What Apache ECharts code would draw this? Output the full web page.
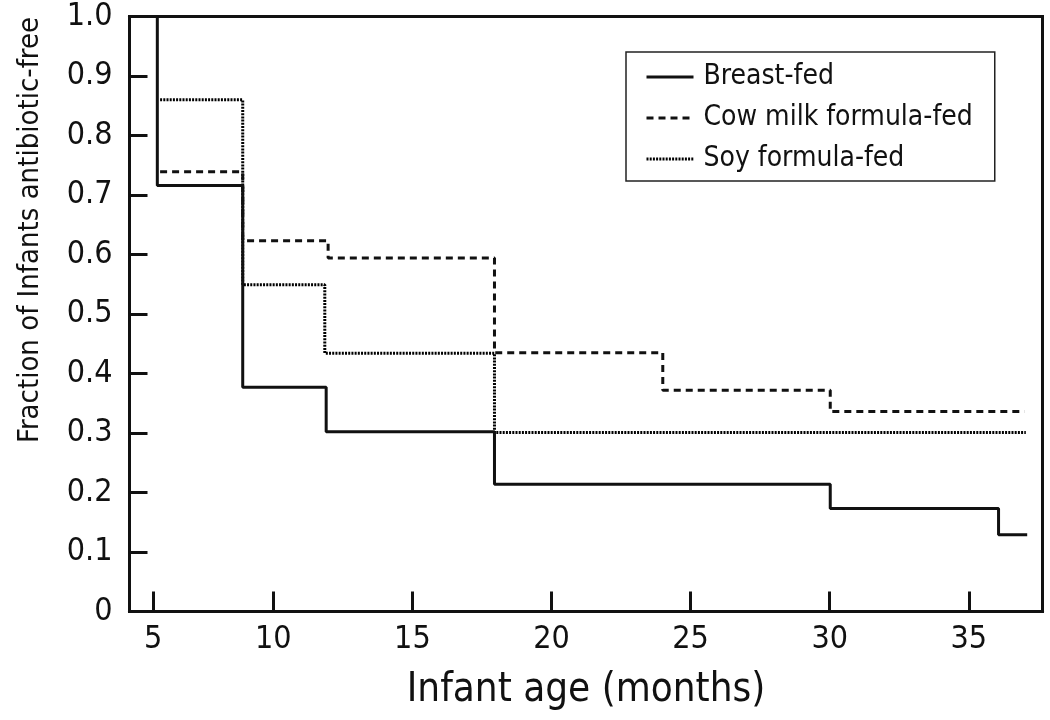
<!DOCTYPE html>
<html>
<head>
<meta charset="utf-8">
<script src="https://cdn.jsdelivr.net/npm/echarts@6/dist/echarts.min.js"></script>
<style>
  html, body { margin: 0; padding: 0; background: #fff; }
  #chart { width: 1050px; height: 720px; }
</style>
</head>
<body>
<div id="chart"></div>
<script>
// ---- data ----
const seriesNames = ['Breast-fed', 'Cow milk formula-fed', 'Soy formula-fed'];
const breastX = [5.83, 5.83, 8.9, 11.9, 17.95, 30.02, 36.07, 37.1];
const breastY = [1.0, 0.716, 0.377, 0.302, 0.214, 0.173, 0.129, 0.129];
const cowX = [5.93, 8.9, 11.97, 17.95, 24.0, 30.02, 37.0];
const cowY = [0.739, 0.623, 0.594, 0.435, 0.372, 0.336, 0.336];
const soyX = [5.93, 8.9, 11.85, 17.95, 37.05];
const soyY = [0.860, 0.549, 0.434, 0.301, 0.301];
const xTickValues = [5.68, 10, 15, 20, 25, 30, 35];
const xTickLabels = ['5', '10', '15', '20', '25', '30', '35'];
const yTickValues = [0, 0.1, 0.2, 0.3, 0.4, 0.5, 0.6, 0.7, 0.8, 0.9, 1.0];
const yTickLabels = ['0', '0.1', '0.2', '0.3', '0.4', '0.5', '0.6', '0.7', '0.8', '0.9', '1.0'];
const xTitle = 'Infant age (months)';
const yTitle = 'Fraction of Infants antibiotic-free';

const FONT = "'DejaVu Sans Condensed', 'Liberation Sans', sans-serif";
const zip = (xs, ys) => xs.map((x, i) => [x, ys[i]]);

const chart = echarts.init(document.getElementById('chart'), null, { renderer: 'canvas' });
chart.setOption({
  animation: false,
  backgroundColor: '#ffffff',
  textStyle: { fontFamily: FONT, color: '#111' },
  grid: {
    left: 129.5, right: 7.5, top: 16.5, bottom: 108.5,
    show: true, borderColor: '#111', borderWidth: 3, backgroundColor: 'transparent'
  },
  xAxis: {
    type: 'value', min: 4.83, max: 37.65,
    splitLine: { show: false },
    axisLine: { show: true, lineStyle: { color: '#111', width: 3 } },
    axisTick: { show: true, inside: true, length: 20, customValues: xTickValues, lineStyle: { color: '#111', width: 3 } },
    axisLabel: {
      customValues: xTickValues, margin: 12,
      fontFamily: FONT, fontSize: 32, color: '#111',
      formatter: v => { const i = xTickValues.findIndex(t => Math.abs(t - v) < 1e-6); return i >= 0 ? xTickLabels[i] : ''; }
    },
    name: xTitle, nameLocation: 'middle', nameGap: 59,
    nameTextStyle: { fontFamily: FONT, fontSize: 40, color: '#111' }
  },
  yAxis: {
    type: 'value', min: 0, max: 1.0, interval: 0.1,
    splitLine: { show: false },
    axisLine: { show: true, lineStyle: { color: '#111', width: 3 } },
    axisTick: { show: true, inside: true, length: 18, lineStyle: { color: '#111', width: 3 } },
    axisLabel: {
      margin: 17, fontFamily: FONT, fontSize: 32, color: '#111',
      formatter: v => { const i = yTickValues.findIndex(t => Math.abs(t - v) < 1e-6); return i >= 0 ? yTickLabels[i] : ''; }
    }
  },
  legend: {
    orient: 'vertical', left: 626, top: 52,
    padding: [11, 22, 8, 19], itemGap: 13,
    itemWidth: 47, itemHeight: 14,
    borderColor: '#222', borderWidth: 1.5, backgroundColor: '#fff',
    itemStyle: { opacity: 0 },
    lineStyle: { width: 3 },
    textStyle: { fontFamily: FONT, fontSize: 28, color: '#111', padding: [0, 0, 0, 5] },
    data: seriesNames
  },
  graphic: [{
    type: 'text', x: 30, y: 230, rotation: Math.PI / 2,
    style: { text: yTitle, font: "29px " + FONT, fill: '#111', align: 'center', verticalAlign: 'middle' }
  }],
  series: [
    {
      name: seriesNames[2], type: 'line', step: 'end', symbol: 'none', z: 2,
      data: zip(soyX, soyY),
      lineStyle: { color: '#000', width: 3, type: [2, 1.2] },
      itemStyle: { color: '#000' }
    },
    {
      name: seriesNames[1], type: 'line', step: 'end', symbol: 'none', z: 3,
      data: zip(cowX, cowY),
      lineStyle: { color: '#111', width: 3, type: [7, 5] },
      itemStyle: { color: '#111' }
    },
    {
      name: seriesNames[0], type: 'line', step: 'end', symbol: 'none', z: 4,
      data: zip(breastX, breastY),
      lineStyle: { color: '#111', width: 3, type: 'solid' },
      itemStyle: { color: '#111' }
    }
  ]
});
</script>
</body>
</html>
